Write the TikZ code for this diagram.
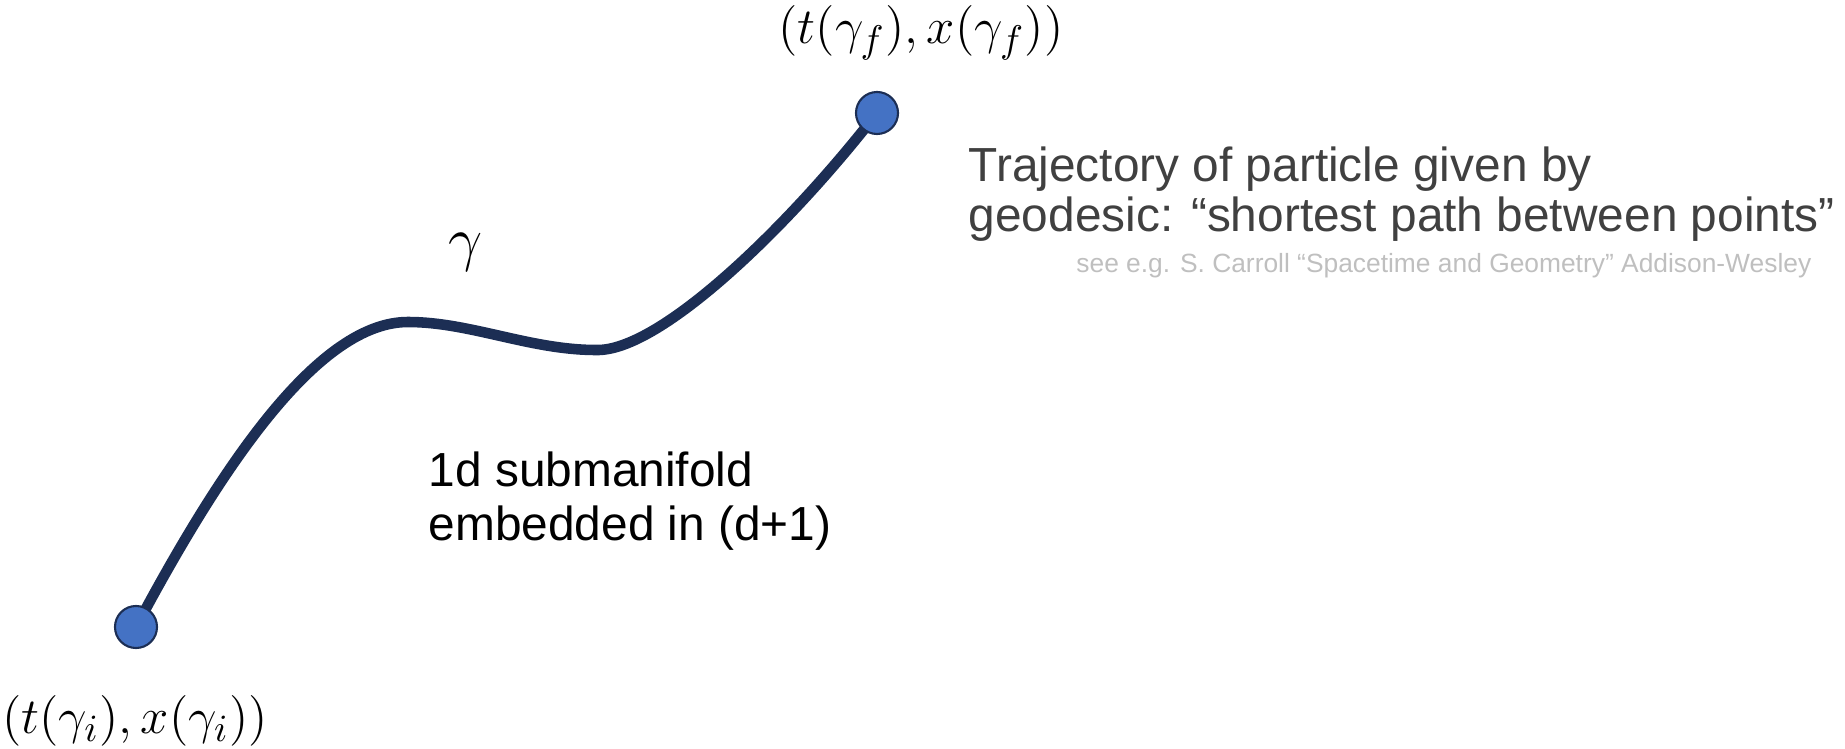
\documentclass[tikz,border=0pt]{standalone}
\usepackage[no-math]{fontspec}
\setmainfont{Liberation Sans}
\usepackage{tikz}
\usetikzlibrary{backgrounds}
\definecolor{pathnavy}{HTML}{1C2E54}
\definecolor{dotblue}{HTML}{4472C4}
\definecolor{textgrey}{HTML}{404040}
\definecolor{refgrey}{HTML}{BFBFBF}

\begin{document}
\begin{tikzpicture}[
  x=0.01cm, y=-0.01cm,
  endpt/.style={circle, draw=pathnavy, fill=dotblue, line width=0.6pt,
                minimum size=0.42cm, inner sep=0pt},
  worldline/.style={draw=pathnavy, line width=3pt},
  coordlbl/.style={font=\fontsize{15}{17}\selectfont, inner sep=0pt},
  note/.style={font=\fontsize{13.6}{15.5}\selectfont, align=left,
               anchor=base west, inner sep=0pt}
]
\useasboundingbox (0,0) rectangle (1845,749);

% --- End points of the path ---
\node[endpt] (gi) at (136,627) {};
\node[endpt] (gf) at (877,113) {};

% --- Coordinate labels ---
\node[coordlbl] (lgi) at (135,721) {$(t(\gamma_i),x(\gamma_i))$};
\node[coordlbl] (lgf) at (921,33) {$(t(\gamma_f),x(\gamma_f))$};

% --- Geodesic ---
\begin{scope}[on background layer]
\draw[worldline] (gi.center) .. controls (225,460) and (320,322) .. (408,322)
  .. controls (470,322) and (530,350) .. (596,350)
  .. controls (660,352) and (790,225) .. (gf.center);
\end{scope}
\node[font=\fontsize{19}{19}\selectfont, inner sep=0pt] (gam) at (466,252) {$\gamma$};

% --- Descriptions (anchored at last baseline) ---
\node[note] (sub) at (428,541) {1d submanifold\\embedded in (d+1)};
\node[note, text=textgrey, font=\fontsize{13.6}{14.5}\selectfont] (traj) at (968,232)
  {Trajectory of particle given by\\geodesic: “shortest path between points”};
\node[font=\fontsize{7.5}{9}\selectfont, text=refgrey, anchor=base east,
      inner sep=0pt] (ref) at (1812,273)
  {see e.g. S. Carroll “Spacetime and Geometry” Addison-Wesley};
\end{tikzpicture}
\end{document}
